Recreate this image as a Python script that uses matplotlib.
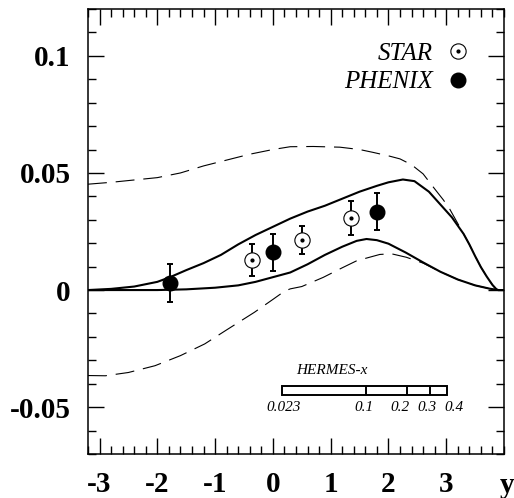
import numpy as np
import matplotlib
matplotlib.use('Agg')
import matplotlib.pyplot as plt
from matplotlib.patches import Rectangle
from matplotlib.ticker import MultipleLocator

# theory curves (rapidity y, asymmetry)
upper_x = [-3.2, -2.8, -2.4, -2.0, -1.78, -1.5, -1.2, -0.9, -0.6, -0.3, 0.0, 0.3, 0.6, 0.9,
           1.2, 1.5, 1.8, 2.0, 2.25, 2.45, 2.7, 2.9, 3.1, 3.3, 3.4, 3.5, 3.6, 3.7, 3.8, 3.87,
           3.9, 4.0]
upper_y = [0.0, 0.0005, 0.0015, 0.0035, 0.0055, 0.0085, 0.0115, 0.015, 0.0195, 0.0235, 0.027,
           0.0305, 0.0335, 0.036, 0.039, 0.042, 0.0445, 0.046, 0.0472, 0.0465, 0.042, 0.0365,
           0.031, 0.024, 0.0195, 0.0145, 0.0098, 0.0058, 0.0022, 0.0003, 0.0, 0.0]
lower_x = [-3.2, -2.0, -1.5, -1.0, -0.6, -0.3, 0.0, 0.3, 0.6, 0.9, 1.2, 1.45, 1.62, 1.8, 2.0,
           2.3, 2.6, 2.9, 3.2, 3.5, 3.75, 3.9, 4.0]
lower_y = [0.0, 0.0, 0.0003, 0.001, 0.002, 0.0035, 0.0055, 0.0075, 0.011, 0.015, 0.0185, 0.021,
           0.0218, 0.0213, 0.0198, 0.016, 0.0118, 0.0078, 0.0045, 0.002, 0.0006, 0.0, 0.0]
dash_up_x = [-3.2, -2.8, -2.4, -2.0, -1.6, -1.2, -0.8, -0.4, 0.0, 0.3, 0.7, 1.16, 1.5, 1.73,
             2.0, 2.2, 2.4, 2.6, 2.8, 2.95, 3.06, 3.3, 3.4, 3.5, 3.6, 3.7, 3.8, 3.87, 3.9, 4.0]
dash_up_y = [0.0452, 0.046, 0.047, 0.048, 0.05, 0.053, 0.0555, 0.058, 0.06, 0.0612, 0.0613,
             0.061, 0.06, 0.0588, 0.0573, 0.056, 0.0535, 0.0496, 0.0432, 0.0385, 0.0346, 0.024,
             0.0195, 0.0145, 0.0098, 0.0058, 0.0022, 0.0003, 0.0, 0.0]
dash_lo_x = [-3.2, -2.9, -2.5, -2.04, -1.6, -1.18, -0.8, -0.32, 0.0, 0.2, 0.3, 0.5, 0.87, 1.2,
             1.45, 1.85, 2.05, 2.31, 2.6, 2.9, 3.2, 3.5, 3.75, 3.9, 4.0]
dash_lo_y = [-0.0365, -0.0366, -0.0352, -0.0323, -0.028, -0.023, -0.017, -0.0095, -0.004,
             -0.0005, 0.0005, 0.0015, 0.0054, 0.0095, 0.0125, 0.0152, 0.0155, 0.014, 0.0115,
             0.0078, 0.0045, 0.002, 0.0006, 0.0, 0.0]

# data points
star_x = [-0.36, 0.51, 1.36]
star_y = [0.0128, 0.0214, 0.0309]
star_err = [0.007, 0.006, 0.0072]
phenix_x = [-1.78, 0.0, 1.80]
phenix_y = [0.003, 0.0161, 0.0335]
phenix_err = [0.008, 0.008, 0.008]

# HERMES x scale
hermes_x = [0.023, 0.1, 0.2, 0.3, 0.4]
hermes_labels = ['0.023', '0.1', '0.2', '0.3', '0.4']
hermes_x0 = 0.0198
label_nudge = [1.5, -1.5, -4.5, -2, 5]   # points, so the small labels don't collide

plt.rcParams['font.family'] = ['Liberation Serif', 'DejaVu Serif']

fig = plt.figure(figsize=(5.14, 4.98), dpi=100)
ax = fig.add_axes([88 / 514, 44 / 498, 416 / 514, 445 / 498])

ax.plot(upper_x, upper_y, color='black', lw=1.5)
ax.plot(lower_x, lower_y, color='black', lw=1.5)
ax.plot(dash_up_x, dash_up_y, color='black', lw=0.8, dashes=(17, 8))
ax.plot(dash_lo_x, dash_lo_y, color='black', lw=0.8, dashes=(17, 8))

ax.errorbar(star_x, star_y, yerr=star_err, fmt='none', ecolor='black', elinewidth=1.4,
            capsize=2.5, capthick=1.4)
star_c, = ax.plot(star_x, star_y, 'o', ms=11, mfc='white', mec='black', mew=0.8, ls='none')
star_d, = ax.plot(star_x, star_y, 'o', ms=2, color='black', ls='none')
ax.errorbar(phenix_x, phenix_y, yerr=phenix_err, fmt='o', color='black', ms=10.5,
            elinewidth=1.4, capsize=2.5, capthick=1.4)
phenix_h, = ax.plot([], [], 'o', ms=10.5, color='black', ls='none')

leg = ax.legend([(star_c, star_d), phenix_h], ['STAR', 'PHENIX'], loc='upper right',
                bbox_to_anchor=(0.919, 0.925), frameon=False, markerfirst=False,
                handlelength=1.0, handletextpad=0.5, labelspacing=0.24, borderpad=0,
                borderaxespad=0, prop={'family': 'Liberation Serif', 'style': 'italic', 'size': 18})

# HERMES-x bar
pos = np.log(np.array(hermes_x) / hermes_x0)
ax.add_patch(Rectangle((pos[0], -0.0447), pos[-1] - pos[0], 0.0038, fill=False,
                       edgecolor='black', lw=1.4))
ax.vlines(pos[1:-1], -0.0447, -0.0409, color='black', lw=1.4)
for p, lab, dx in zip(pos, hermes_labels, label_nudge):
    ax.annotate(lab, xy=(p, -0.0502), xytext=(dx, 0), textcoords='offset points',
                ha='center', va='center', fontsize=11, style='italic')
ax.text((pos[0] + pos[-1]) / 2 - 0.55, -0.0345, 'HERMES-x', ha='center', va='center',
        fontsize=11, style='italic')

ax.set_xlim(-3.2, 4.0)
ax.set_ylim(-0.07, 0.12)
ax.set_xticks([-3, -2, -1, 0, 1, 2, 3])
ax.set_yticks([-0.05, 0, 0.05, 0.1])
ax.set_yticklabels(['-0.05', '0', '0.05', '0.1'])
ax.set_xticklabels(['-3', '-2', '-1', '0', '1', '2', '3'])
ax.xaxis.set_minor_locator(MultipleLocator(0.2))
ax.yaxis.set_minor_locator(MultipleLocator(0.01))
ax.tick_params(which='both', direction='in', top=True, right=True, width=1.0)
ax.tick_params(which='major', length=11.5, labelsize=21, pad=12.5)
ax.tick_params(which='minor', length=6)
for lab in ax.get_xticklabels() + ax.get_yticklabels():
    lab.set_fontweight('bold')
for s in ax.spines.values():
    s.set_linewidth(1.1)

# axis name sits at the end of the tick label row
ax.text(1.007, -0.0876, 'y', transform=ax.transAxes, ha='center', va='baseline',
        fontsize=21, fontweight='bold')

fig.savefig('out.png', dpi=100)
